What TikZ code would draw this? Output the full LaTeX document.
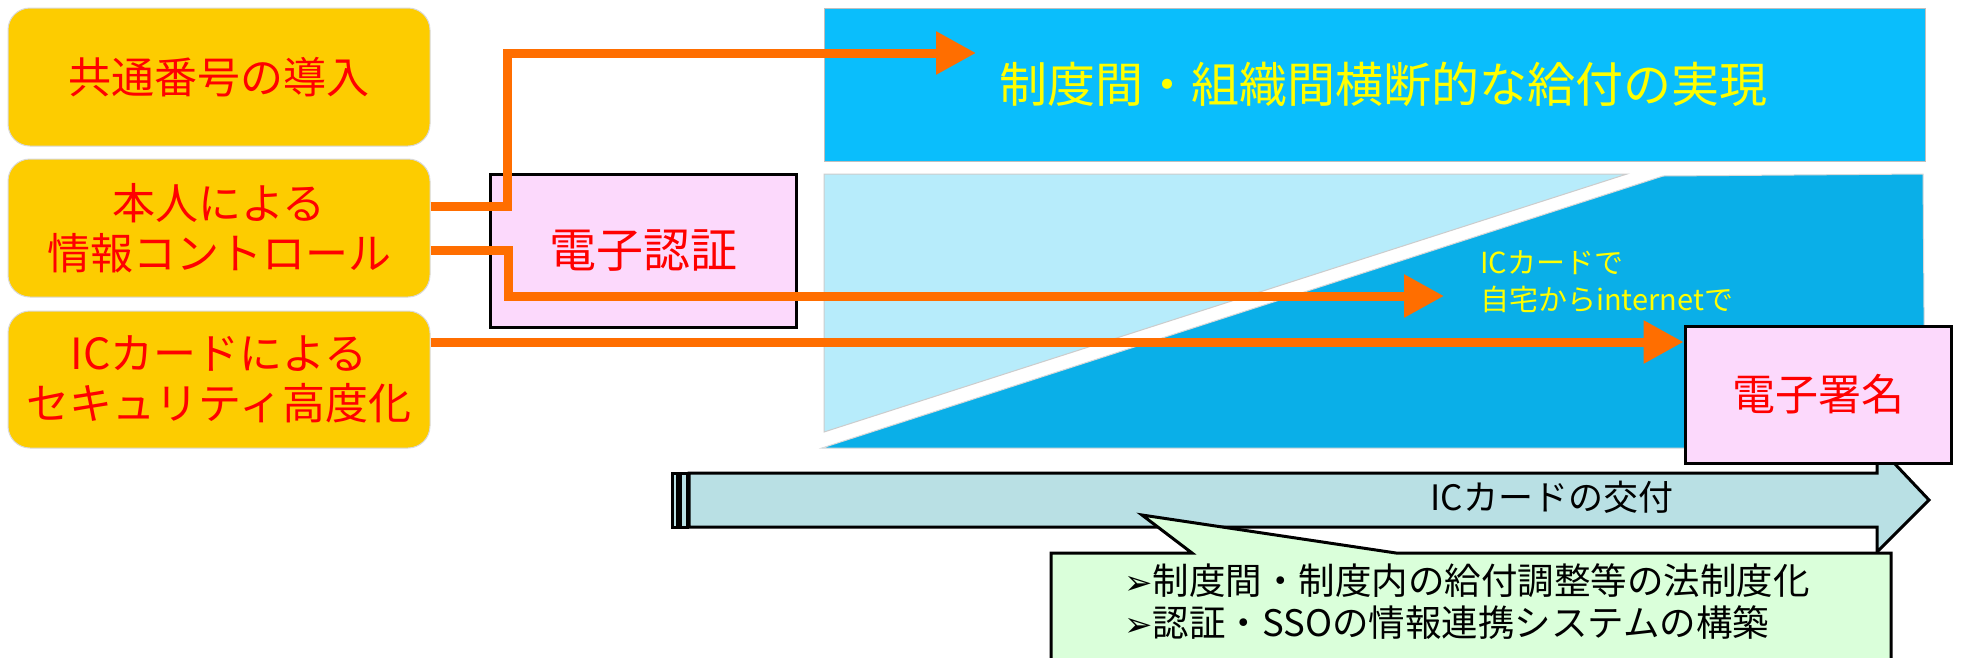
\documentclass[tikz,border=0pt]{standalone}
\usepackage{fontspec}
\setmainfont{Noto Sans CJK JP}
\newfontfamily\dejavu{DejaVu Sans}
\usetikzlibrary{arrows.meta,calc}
\definecolor{ybox}{RGB}{253,204,0}
\definecolor{pinkbox}{RGB}{252,217,252}
\definecolor{topblue}{RGB}{10,190,252}
\definecolor{lightblue}{RGB}{183,236,251}
\definecolor{darkblue}{RGB}{10,175,232}
\definecolor{orangeline}{RGB}{255,110,0}
\definecolor{tealarrow}{RGB}{185,224,228}
\definecolor{calloutgreen}{RGB}{218,255,218}
\definecolor{txtyellow}{RGB}{255,255,0}
\newcommand{\bulletmark}{{\dejavu\fontsize{34}{42}\selectfont ➢}}
\tikzset{
  ybox/.style={draw=black!15, line width=1pt, fill=ybox, rounded corners=22pt,
    minimum width=422pt, minimum height=138pt, inner sep=0pt, align=center,
    text=red, font=\fontsize{43}{50.5}\selectfont},
  pinkbox/.style={draw=black, line width=3pt, fill=pinkbox, inner sep=0pt,
    text=red},
  orangearrow/.style={draw=orangeline, line width=9pt,
    -{Triangle[length=40pt,width=41pt]}},
  shapeline/.style={draw=black, line width=3pt, line join=miter},
}
\begin{document}
\begin{tikzpicture}[x=1pt,y=-1pt]
\useasboundingbox (0,0) rectangle (1964,657);
\clip (0,0) rectangle (1964,657);
\fill[white] (0,0) rectangle (1964,657);

% top goal band
\node[draw=black!25, line width=1pt, fill=topblue, minimum width=1101pt,
  minimum height=153pt, inner sep=0pt, text=txtyellow,
  font=\fontsize{48}{56}\selectfont] (goal) at (1374.5,84.5)
  {\hspace*{18pt}制度間・組織間横断的な給付の実現};

% lower split region
\fill[lightblue, draw=black!20, line width=1pt] (824,174) -- (1627,174) -- (824,432) -- cycle;
\fill[darkblue, draw=black!15, line width=1pt] (1663,176) -- (1923,174) -- (1925,448) -- (822,448) -- cycle;
\node[anchor=west, align=left, text=txtyellow, inner sep=0pt,
  font=\fontsize{29}{37}\selectfont] (ictext) at (1480,281.5)
  {ICカードで\\自宅からinternetで};

% left boxes
\node[ybox] (b1) at (219,77) {共通番号の導入};
\node[ybox] (b2) at (219,228) {本人による\\情報コントロール};
\node[ybox, minimum height=137pt] (b3) at (219,379.5) {ICカードによる\\セキュリティ高度化};

% electronic authentication
\node[pinkbox, minimum width=306pt, minimum height=153pt,
  font=\fontsize{47}{55}\selectfont] (auth) at (643,250.5) {電子認証};

% striped arrow: IC card issuance
\fill[tealarrow] (689,473) -- (1877,473) -- (1877,445) -- (1929,500) -- (1877,552) -- (1877,527) -- (689,527) -- cycle;
\draw[shapeline] (689,473) -- (1877,473) -- (1877,445) -- (1929,500) -- (1877,552) -- (1877,527) -- (689,527) -- cycle;
\draw[shapeline, fill=tealarrow] (672,473) rectangle (677,527);
\draw[shapeline, fill=tealarrow] (680,473) rectangle (687,527);
\node[inner sep=0pt, font=\fontsize{35}{40}\selectfont] (issue) at (1552,497) {ICカードの交付};

% callout
\draw[shapeline, fill=calloutgreen] (1051,553) -- (1192,553) -- (1142,515) -- (1396,553) -- (1891,553) -- (1891,700) -- (1051,700) -- cycle;
\node[anchor=west, align=left, inner sep=0pt, font=\fontsize{36.5}{42}\selectfont] (tasks) at (1124,602)
  {\bulletmark 制度間・制度内の給付調整等の法制度化\\
   \bulletmark 認証・SSOの情報連携システムの構築};

% electronic signature
\node[pinkbox, minimum width=266pt, minimum height=137pt,
  font=\fontsize{43}{50}\selectfont] (sig) at (1818,394.5) {電子署名};

% orange connectors
\coordinate (j1) at (507,53);
\coordinate (t1) at (976,53);
\coordinate (j2) at (508,296);
\coordinate (t2) at (1444,296);
\coordinate (s3) at ([yshift=37.5pt]b3.east);
\draw[orangearrow] ([yshift=22pt]b2.east) -| (j1) -- (t1);
\draw[orangearrow] ([yshift=-22pt]b2.east) -| (j2) -- (t2);
\draw[orangearrow] (s3) -- (s3 -| sig.west);
\end{tikzpicture}
\end{document}
